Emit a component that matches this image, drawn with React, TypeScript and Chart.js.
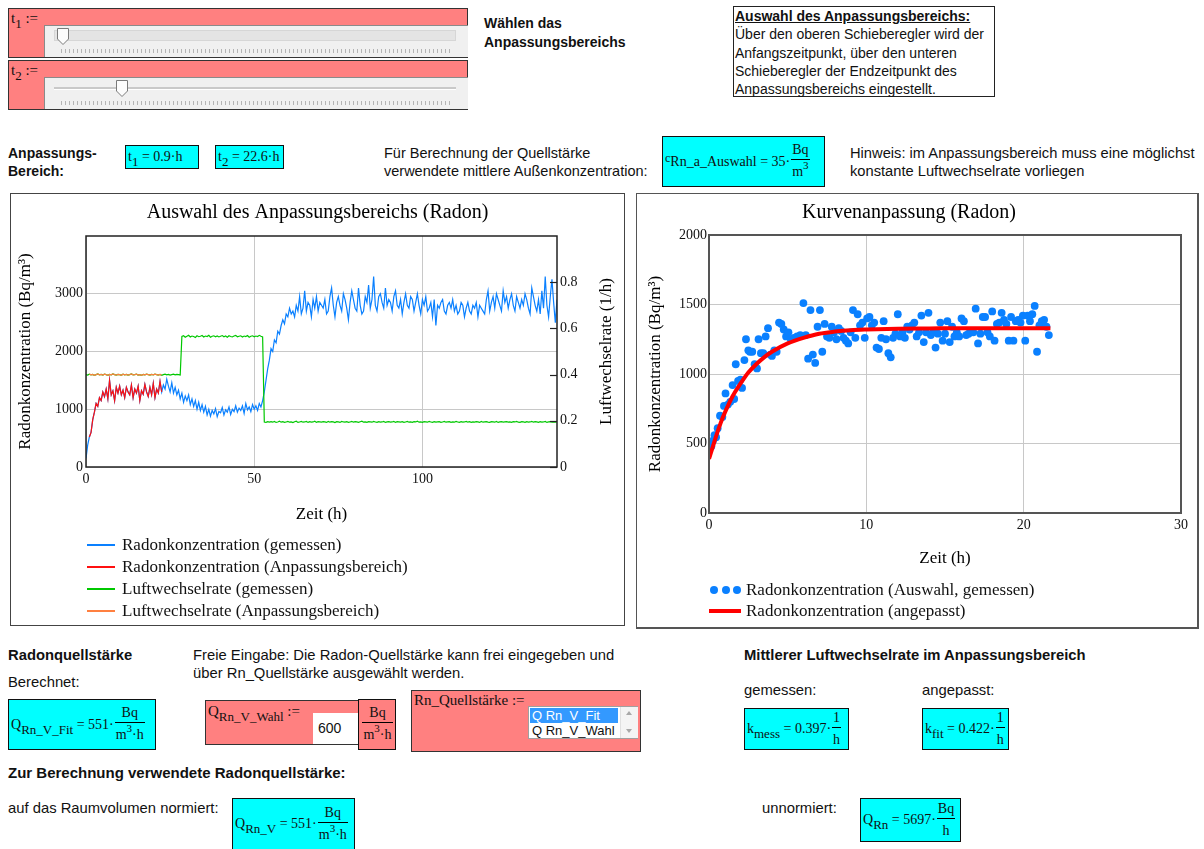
import React, { useEffect, useRef } from "react";
import { Chart, registerables } from "chart.js";

Chart.register(...registerables);

const SERIF = '"Liberation Serif", "Times New Roman", Times, serif';
const SANS = '"Liberation Sans", Arial, Helvetica, sans-serif';

// ---------- Fit range ----------
const T1 = 0.9;
const T2 = 22.6;
const SAMPLE_STEP_H = 0.5; // sampling interval of the measured series (h)

// ---------- Left chart: measured series (one value every 0.5 h, 0 … 140 h) ----------
const RADON_MEASURED = [
  150, 380, 520, 600, 820, 950, 1100, 1050, 1200, 1150,
  1300, 1220, 1350, 1180, 1500, 1250, 1320, 1150, 1380, 1280,
  1400, 1250, 1330, 1200, 1380, 1300, 1250, 1420, 1200, 1350,
  1280, 1400, 1150, 1320, 1260, 1430, 1300, 1220, 1380, 1250,
  1450, 1200, 1350, 1280, 1480, 1300, 1420, 1350, 1520, 1400,
  1300, 1460, 1280, 1380, 1250, 1330, 1180, 1280, 1120, 1230,
  1150, 1250, 1080, 1180, 1050, 1150, 1000, 1120, 980, 1080,
  950, 1050, 900, 1000, 880, 980, 920, 1010, 870, 960,
  940, 1030, 900, 990, 950, 1040, 910, 1000, 960, 1060,
  950, 1020, 980, 1060, 930, 1100, 990, 1040, 960, 1080,
  1000, 1060, 980, 1100, 1040, 1150, 1300, 1500, 1700, 1850,
  2050, 2000, 2200, 2150, 2350, 2300, 2450, 2550, 2480, 2650,
  2600, 2750, 2650, 2700, 2600, 2800, 2700, 2950, 2650, 2750,
  3050, 2700, 2850, 2800, 2600, 2900, 2750, 2950, 2700, 2850,
  2800, 2750, 2900, 2650, 2700, 2950, 3100, 2800, 2600, 2850,
  2950, 2800, 2700, 3000, 2900, 2750, 2550, 2850, 3050, 2900,
  2750, 2700, 3100, 2800, 2650, 2700, 2950, 2850, 3150, 2750,
  2900, 3300, 2800, 2700, 2950, 3000, 2850, 2750, 3100, 2800,
  2900, 2850, 2700, 2950, 3050, 2800, 2750, 2900, 2650, 2850,
  3000, 2800, 2750, 2950, 2900, 2700, 2850, 3000, 2800, 2650,
  2900, 2800, 2950, 2700, 2750, 2850, 2600, 2900, 2450, 2800,
  2750, 2850, 2900, 2700, 2650, 2800, 2850, 2750, 2900, 2700,
  2800, 2650, 2700, 2850, 2800, 2600, 2750, 2850, 2700, 2650,
  2800, 2750, 2850, 2600, 2800, 2750, 2700, 2650, 2900, 3050,
  2700, 2850, 2950, 2750, 3000, 2900, 2800, 2700, 3050, 2850,
  2950, 2750, 2900, 3000, 2800, 2700, 2950, 2850, 2750, 2900,
  2800, 3000, 2900, 2750, 2650, 3100, 2950, 2800, 2700, 2900,
  2650, 3050, 2750, 3300, 2800, 2600, 2950, 3250, 2850, 2500,
  2900,
];

const AIR_EXCHANGE_MEASURED = [
  0.400, 0.398, 0.402, 0.399, 0.401, 0.397, 0.400, 0.403, 0.399, 0.401,
  0.398, 0.402, 0.400, 0.397, 0.401, 0.399, 0.403, 0.400, 0.398, 0.401,
  0.400, 0.397, 0.402, 0.399, 0.401, 0.398, 0.400, 0.403, 0.399, 0.400,
  0.402, 0.398, 0.400, 0.397, 0.401, 0.399, 0.402, 0.400, 0.398, 0.401,
  0.399, 0.402, 0.400, 0.398, 0.401, 0.397, 0.400, 0.402, 0.399, 0.401,
  0.398, 0.400, 0.402, 0.399, 0.401, 0.400, 0.398, 0.565, 0.568, 0.562,
  0.566, 0.570, 0.563, 0.567, 0.565, 0.561, 0.568, 0.564, 0.566, 0.569,
  0.563, 0.567, 0.565, 0.570, 0.562, 0.566, 0.568, 0.564, 0.567, 0.563,
  0.566, 0.569, 0.564, 0.567, 0.562, 0.568, 0.565, 0.563, 0.567, 0.570,
  0.564, 0.566, 0.568, 0.563, 0.567, 0.565, 0.569, 0.562, 0.566, 0.568,
  0.564, 0.567, 0.565, 0.570, 0.566, 0.563, 0.195, 0.193, 0.196, 0.194,
  0.196, 0.194, 0.197, 0.193, 0.195, 0.198, 0.194, 0.196, 0.193, 0.195,
  0.197, 0.194, 0.195, 0.192, 0.196, 0.198, 0.193, 0.195, 0.197, 0.194,
  0.195, 0.197, 0.193, 0.196, 0.194, 0.195, 0.198, 0.193, 0.196, 0.195,
  0.194, 0.196, 0.195, 0.193, 0.197, 0.194, 0.196, 0.195, 0.192, 0.196,
  0.195, 0.193, 0.197, 0.195, 0.194, 0.196, 0.193, 0.195, 0.197, 0.194,
  0.196, 0.195, 0.193, 0.196, 0.198, 0.194, 0.195, 0.193, 0.196, 0.195,
  0.194, 0.197, 0.195, 0.193, 0.196, 0.194, 0.195, 0.197, 0.193, 0.195,
  0.196, 0.194, 0.195, 0.197, 0.193, 0.196, 0.195, 0.194, 0.196, 0.193,
  0.195, 0.197, 0.194, 0.195, 0.193, 0.196, 0.195, 0.198, 0.194, 0.195,
  0.193, 0.196, 0.195, 0.194, 0.197, 0.195, 0.193, 0.196, 0.194, 0.195,
  0.196, 0.193, 0.195, 0.197, 0.194, 0.195, 0.196, 0.193, 0.195, 0.194,
  0.197, 0.195, 0.193, 0.196, 0.194, 0.195, 0.197, 0.194, 0.196, 0.193,
  0.195, 0.194, 0.196, 0.195, 0.193, 0.197, 0.194, 0.195, 0.196, 0.194,
  0.193, 0.196, 0.195, 0.194, 0.197, 0.193, 0.195, 0.196, 0.194, 0.195,
  0.196, 0.194, 0.195, 0.193, 0.196, 0.195, 0.197, 0.194, 0.193, 0.196,
  0.195, 0.193, 0.196, 0.194, 0.195, 0.197, 0.194, 0.196, 0.195, 0.193,
  0.196, 0.194, 0.195, 0.197, 0.193, 0.195, 0.196, 0.194, 0.195, 0.194,
  0.195,
];

const LEFT_X_TICKS = [0, 50, 100];
const LEFT_Y_TICKS = [0, 1000, 2000, 3000];
const LEFT_Y1_TICKS = [0, 0.2, 0.4, 0.6, 0.8];
const LEFT_LEGEND = [
  "Radonkonzentration (gemessen)",
  "Radonkonzentration (Anpassungsbereich)",
  "Luftwechselrate (gemessen)",
  "Luftwechselrate (Anpassungsbereich)",
];
const LEFT_COLORS = ["#0a80ff", "#ff1010", "#00c800", "#ff8040"];

// ---------- Right chart: selected points (time since t1) and fitted curve ----------
const SEL_TIME = [
  0.05, 0.15, 0.25, 0.35, 0.45, 0.55, 0.7, 0.85, 0.95, 1.05,
  1.2, 1.35, 1.5, 1.6, 1.7, 1.85, 2.0, 2.1, 2.25, 2.35,
  2.5, 2.6, 2.75, 2.9, 3.05, 3.15, 3.3, 3.45, 3.6, 3.75,
  3.9, 4.0, 4.15, 4.3, 4.45, 4.6, 4.75, 4.9, 5.05, 5.2,
  5.4, 5.6, 5.8, 6.0, 6.15, 6.3, 6.45, 6.6, 6.75, 6.9,
  7.05, 7.2, 7.35, 7.5, 7.65, 7.8, 7.95, 8.1, 8.25, 8.4,
  8.55, 8.7, 8.85, 9.0, 9.15, 9.3, 9.45, 9.6, 9.75, 9.9,
  10.05, 10.2, 10.35, 10.5, 10.65, 10.8, 10.95, 11.1, 11.25, 11.4,
  11.55, 11.7, 11.85, 12.0, 12.15, 12.3, 12.45, 12.6, 12.75, 12.9,
  13.05, 13.2, 13.35, 13.5, 13.65, 13.8, 13.95, 14.1, 14.25, 14.4,
  14.55, 14.7, 14.85, 15.0, 15.15, 15.3, 15.45, 15.6, 15.75, 15.9,
  16.05, 16.2, 16.35, 16.5, 16.65, 16.8, 16.95, 17.1, 17.25, 17.4,
  17.55, 17.7, 17.85, 18.0, 18.15, 18.3, 18.45, 18.6, 18.75, 18.9,
  19.05, 19.2, 19.35, 19.5, 19.65, 19.8, 19.95, 20.1, 20.25, 20.4,
  20.55, 20.7, 20.85, 21.0, 21.15, 21.3, 21.45, 21.6,
];
const SEL_RADON = [
  470, 480, 520, 560, 545, 610, 700, 690, 770, 860,
  780, 800, 920, 820, 1070, 950, 960, 900, 1100, 1250,
  1170, 1160, 1160, 1070, 1040, 1250, 1150, 1150, 1270, 1330,
  1140, 1130, 1170, 1160, 1370, 1360, 1320, 1270, 1300, 1250,
  1260, 1270, 1280, 1510, 1280, 1110, 1460, 1140, 1080, 1340,
  1460, 1160, 1360, 1270, 1260, 1340, 1300, 1250, 1330, 1310,
  1260, 1240, 1220, 1300, 1460, 1260, 1430, 1350, 1370, 1260,
  1400, 1410, 1350, 1370, 1190, 1180, 1260, 1380, 1250, 1150,
  1120, 1260, 1290, 1430, 1270, 1300, 1260, 1340, 1320, 1350,
  1370, 1270, 1300, 1420, 1230, 1300, 1440, 1280, 1300, 1190,
  1290, 1370, 1240, 1290, 1380, 1230, 1340, 1270, 1300, 1270,
  1400, 1380, 1280, 1290, 1310, 1300, 1470, 1220, 1290, 1410,
  1410, 1300, 1270, 1450, 1240, 1360, 1370, 1440, 1390, 1360,
  1240, 1410, 1240, 1380, 1390, 1370, 1420, 1240, 1420, 1380,
  1430, 1490, 1160, 1350, 1380, 1390, 1340, 1280,
];
const FIT_TIME = [0, 0.25, 0.5, 0.75, 1, 1.5, 2, 2.5, 3, 3.5, 4, 5, 6, 7, 8, 9, 10, 12, 14, 16, 18, 20, 21.7];
const FIT_RADON = [390, 480, 570, 650, 720, 840, 930, 1010, 1070, 1120, 1160, 1220, 1260, 1290, 1305, 1315, 1320, 1326, 1328, 1330, 1330, 1330, 1330];

const RIGHT_X_TICKS = [0, 10, 20, 30];
const RIGHT_Y_TICKS = [0, 500, 1000, 1500, 2000];
const RIGHT_LEGEND = ["Radonkonzentration (Auswahl, gemessen)", "Radonkonzentration (angepasst)"];
const RIGHT_COLORS = ["#0a80ff", "#ff0000"];

// ---------- chart helpers ----------
const tickFont = { family: SERIF, size: 14 };
const titleFont = { family: SERIF, size: 17 };
const fixTicks = (vals: number[]) => (s: any) => {
  s.ticks = vals.map((v) => ({ value: v }));
};
const plainLabel = (v: any) => String(v);

const framePlugin = (color: string, width: number, innerTickAxis?: string) => ({
  id: "frame",
  afterDraw(chart: any) {
    const { ctx, chartArea: a } = chart;
    ctx.save();
    ctx.strokeStyle = color;
    ctx.lineWidth = width;
    ctx.strokeRect(a.left, a.top, a.right - a.left, a.bottom - a.top);
    if (innerTickAxis) {
      const s = chart.scales[innerTickAxis];
      ctx.lineWidth = 1.2;
      s.ticks.forEach((t: any) => {
        const y = Math.round(s.getPixelForValue(t.value)) + 0.5;
        ctx.beginPath();
        ctx.moveTo(a.right - 7, y);
        ctx.lineTo(a.right, y);
        ctx.stroke();
      });
    }
    ctx.restore();
  },
});

const sideTitlePlugin = (text: string, offset: number) => ({
  id: "sideTitle",
  afterDraw(chart: any) {
    const { ctx, chartArea: a } = chart;
    ctx.save();
    ctx.translate(a.right + offset, (a.top + a.bottom) / 2);
    ctx.rotate(-Math.PI / 2);
    ctx.textAlign = "center";
    ctx.textBaseline = "middle";
    ctx.font = `17px ${SERIF}`;
    ctx.fillStyle = "#000";
    ctx.fillText(text, 0, 0);
    ctx.restore();
  },
});

function LeftChart() {
  const ref = useRef<HTMLCanvasElement>(null);
  useEffect(() => {
    const blue = RADON_MEASURED.map((y, i) => ({ x: i * SAMPLE_STEP_H, y }));
    const green = AIR_EXCHANGE_MEASURED.map((y, i) => ({ x: i * SAMPLE_STEP_H, y }));
    const inRange = (p: { x: number }) => p.x >= T1 && p.x <= T2;
    const red = blue.filter(inRange);
    const orange = green.filter(inRange);
    const chart = new Chart(ref.current as HTMLCanvasElement, {
      type: "line",
      data: {
        datasets: [
          { label: LEFT_LEGEND[0], data: blue, borderColor: LEFT_COLORS[0], borderWidth: 1.2, pointRadius: 0, yAxisID: "y", order: 3 },
          { label: LEFT_LEGEND[1], data: red, borderColor: LEFT_COLORS[1], borderWidth: 1.2, pointRadius: 0, yAxisID: "y", order: 1 },
          { label: LEFT_LEGEND[2], data: green, borderColor: LEFT_COLORS[2], borderWidth: 1.2, pointRadius: 0, yAxisID: "y1", order: 2 },
          { label: LEFT_LEGEND[3], data: orange, borderColor: LEFT_COLORS[3], borderWidth: 1.2, pointRadius: 0, yAxisID: "y1", order: 0 },
        ],
      } as any,
      options: {
        animation: false,
        responsive: false,
        events: [],
        layout: { padding: { left: 0, right: 0, top: 0, bottom: 97 } },
        plugins: {
          legend: { display: false },
          tooltip: { enabled: false },
          title: {
            display: true,
            text: "Auswahl des Anpassungsbereichs (Radon)",
            font: { family: SERIF, size: 20, weight: "normal" },
            color: "#000",
            padding: { top: 7, bottom: 11 },
          },
        },
        scales: {
          x: {
            type: "linear",
            min: 0,
            max: 140,
            afterBuildTicks: fixTicks(LEFT_X_TICKS),
            afterFit: (s: any) => { s.height = 61; },
            grid: { color: "#c8c8c8", drawTicks: false },
            border: { display: false },
            ticks: { font: tickFont, color: "#111", padding: 4, maxRotation: 0, autoSkip: false, callback: plainLabel },
            title: { display: true, text: "Zeit (h)", font: titleFont, color: "#000", padding: { top: 0, bottom: 3 } },
          },
          y: {
            type: "linear",
            position: "left",
            min: 0,
            max: 4000,
            afterBuildTicks: fixTicks(LEFT_Y_TICKS),
            afterFit: (s: any) => { s.width = 75; },
            grid: { color: "#c8c8c8", drawTicks: false },
            border: { display: false },
            ticks: { font: tickFont, color: "#111", padding: 3, autoSkip: false, callback: plainLabel },
            title: { display: true, text: "Radonkonzentration (Bq/m³)", font: titleFont, color: "#000", padding: { top: 4, bottom: 0 } },
          },
          y1: {
            type: "linear",
            position: "right",
            min: 0,
            max: 1,
            afterBuildTicks: fixTicks(LEFT_Y1_TICKS),
            afterFit: (s: any) => { s.width = 67; },
            grid: { display: false, drawTicks: false },
            border: { display: false },
            ticks: { font: tickFont, color: "#111", padding: 3, autoSkip: false, callback: plainLabel },
          },
        },
      } as any,
      plugins: [framePlugin("#222", 1.5, "y1"), sideTitlePlugin("Luftwechselrate (1/h)", 50)],
    });
    return () => chart.destroy();
  }, []);
  return <canvas ref={ref} width={613} height={431} style={{ display: "block" }} />;
}

function RightChart() {
  const ref = useRef<HTMLCanvasElement>(null);
  useEffect(() => {
    const pts = SEL_TIME.map((x, i) => ({ x, y: SEL_RADON[i] }));
    const fit = FIT_TIME.map((x, i) => ({ x, y: FIT_RADON[i] }));
    const chart = new Chart(ref.current as HTMLCanvasElement, {
      type: "scatter",
      data: {
        datasets: [
          { label: RIGHT_LEGEND[0], data: pts, backgroundColor: RIGHT_COLORS[0], borderWidth: 0, pointRadius: 3.9, order: 1 },
          {
            label: RIGHT_LEGEND[1], data: fit, showLine: true, borderColor: RIGHT_COLORS[1], borderWidth: 4,
            pointRadius: 0, cubicInterpolationMode: "monotone", order: 0,
          },
        ],
      } as any,
      options: {
        animation: false,
        responsive: false,
        events: [],
        layout: { padding: { left: 0, right: 16, top: 0, bottom: 54 } },
        plugins: {
          legend: { display: false },
          tooltip: { enabled: false },
          title: {
            display: true,
            text: "Kurvenanpassung (Radon)",
            font: { family: SERIF, size: 20, weight: "normal" },
            color: "#000",
            padding: { top: 7, bottom: 10 },
          },
        },
        scales: {
          x: {
            type: "linear",
            min: 0,
            max: 30,
            afterBuildTicks: fixTicks(RIGHT_X_TICKS),
            afterFit: (s: any) => { s.height = 60; },
            grid: { color: "#c8c8c8", drawTicks: false },
            border: { display: false },
            ticks: { font: tickFont, color: "#111", padding: 4, maxRotation: 0, autoSkip: false, callback: plainLabel },
            title: { display: true, text: "Zeit (h)", font: titleFont, color: "#000", padding: { top: 0, bottom: 4 } },
          },
          y: {
            type: "linear",
            min: 0,
            max: 2000,
            afterBuildTicks: fixTicks(RIGHT_Y_TICKS),
            afterFit: (s: any) => { s.width = 72; },
            grid: { color: "#c8c8c8", drawTicks: false },
            border: { display: false },
            ticks: { font: tickFont, color: "#111", padding: 2, autoSkip: false, callback: plainLabel },
            title: { display: true, text: "Radonkonzentration (Bq/m³)", font: titleFont, color: "#000", padding: { top: 8, bottom: 0 } },
          },
        },
      } as any,
      plugins: [framePlugin("#555", 2)],
    });
    return () => chart.destroy();
  }, []);
  return <canvas ref={ref} width={560} height={433} style={{ display: "block" }} />;
}

// ---------- HTML helpers ----------
const abs = (left: number, top: number, extra: React.CSSProperties = {}): React.CSSProperties => ({
  position: "absolute",
  left,
  top,
  ...extra,
});

function Txt({ x, cy, children, bold, size = 14, style }: any) {
  return (
    <div style={abs(x, cy - 9, { lineHeight: "18px", fontSize: size, fontWeight: bold ? "bold" : "normal", whiteSpace: "nowrap", ...style })}>
      {children}
    </div>
  );
}

const Sub = ({ children }: any) => (
  <span style={{ fontSize: 13, position: "relative", top: 5 }}>{children}</span>
);

const Frac = ({ num, den }: any) => (
  <span style={{ display: "inline-flex", flexDirection: "column", alignItems: "center", verticalAlign: "middle", margin: "0 0 0 1px" }}>
    <span style={{ lineHeight: "18px", padding: "0 1px" }}>{num}</span>
    <span style={{ borderTop: "1px solid #000", alignSelf: "stretch" }} />
    <span style={{ lineHeight: "20px", padding: "2px 1px 0 1px" }}>{den}</span>
  </span>
);

const M3 = ({ h }: any) => (
  <span>
    m<span style={{ fontSize: 11, position: "relative", top: -7 }}>3</span>
    {h ? "·h" : ""}
  </span>
);

function MathBox({ x, y, w, h, bg = "#00ffff", children, style }: any) {
  return (
    <div
      style={abs(x, y, {
        width: w,
        height: h,
        boxSizing: "border-box",
        background: bg,
        border: "1px solid #111",
        display: "flex",
        alignItems: "center",
        paddingLeft: 2,
        fontFamily: SERIF,
        fontSize: 14,
        whiteSpace: "nowrap",
        overflow: "hidden",
        ...style,
      })}
    >
      {children}
    </div>
  );
}

function Slider({ top, label, thumbX, focused }: any) {
  return (
    <div style={abs(8, top, { width: 460, height: 50, boxSizing: "border-box", background: "#ff8080", border: "1px solid #333" })}>
      <div style={abs(2, 0, { fontFamily: SERIF, fontSize: 15, lineHeight: "18px" })}>
        t<Sub>{label}</Sub> :=
      </div>
      <div
        style={abs(35, 16, {
          width: 424,
          height: 32,
          boxSizing: "border-box",
          background: "#f0f0f0",
          borderTop: "1px solid #8a8a8a",
          borderLeft: "1px solid #8a8a8a",
        })}
      >
        {focused ? (
          <div style={abs(9, 4, { width: 402, height: 11, background: "#e4e4e4", border: "1px solid #d6d6d6", boxSizing: "border-box" })} />
        ) : (
          <div style={abs(9, 9, { width: 402, height: 2, background: "#c9c9c9", borderBottom: "1px solid #fff" })} />
        )}
        <div
          style={abs(16, 23, {
            width: 392,
            height: 4,
            backgroundImage: "repeating-linear-gradient(to right, #b4b4b4 0px, #b4b4b4 1px, transparent 1px, transparent 4px)",
          })}
        />
        <svg style={abs(thumbX - 44 - 6, 2)} width={12} height={17}>
          <polygon points="0.5,0.5 11.5,0.5 11.5,11 6,16.5 0.5,11" fill="#fcfcfc" stroke="#7a7a7a" strokeWidth={1} />
        </svg>
      </div>
    </div>
  );
}

function LeftLegend() {
  const widths = [1.5, 2.5, 2, 2];
  return (
    <div style={abs(87, 534, { fontFamily: SERIF, fontSize: 17 })}>
      {LEFT_LEGEND.map((l, i) => (
        <div key={l} style={{ display: "flex", alignItems: "center", height: 22 }}>
          <span style={{ display: "inline-block", width: 28, height: widths[i], background: LEFT_COLORS[i], marginRight: 7 }} />
          <span style={{ lineHeight: "22px", whiteSpace: "nowrap" }}>{l}</span>
        </div>
      ))}
    </div>
  );
}

function RightLegend() {
  return (
    <div style={abs(709, 579, { fontFamily: SERIF, fontSize: 17 })}>
      <div style={{ display: "flex", alignItems: "center", height: 21 }}>
        <span style={{ display: "inline-flex", width: 32, justifyContent: "space-between", marginRight: 5, paddingLeft: 1, boxSizing: "border-box" }}>
          {[0, 1, 2].map((k) => (
            <span key={k} style={{ width: 8, height: 8, borderRadius: 4, background: RIGHT_COLORS[0], display: "inline-block" }} />
          ))}
        </span>
        <span style={{ whiteSpace: "nowrap" }}>{RIGHT_LEGEND[0]}</span>
      </div>
      <div style={{ display: "flex", alignItems: "center", height: 21 }}>
        <span style={{ display: "inline-block", width: 32, height: 4, background: RIGHT_COLORS[1], marginRight: 5 }} />
        <span style={{ whiteSpace: "nowrap" }}>{RIGHT_LEGEND[1]}</span>
      </div>
    </div>
  );
}

const MID = 14.5;
const BOT = 14.8;

export default function App() {
  return (
    <div
      style={{
        position: "absolute",
        left: 0,
        top: 0,
        width: 1204,
        height: 849,
        background: "#fff",
        overflow: "hidden",
        fontFamily: SANS,
        fontSize: 14,
        color: "#111",
      }}
    >
      {/* sliders */}
      <Slider top={8} label="1" thumbX={62} focused />
      <Slider top={60} label="2" thumbX={121} />

      <Txt x={484} cy={23} bold>Wählen das</Txt>
      <Txt x={484} cy={42} bold>Anpassungsbereichs</Txt>

      <div style={abs(733, 6, { width: 262, height: 91, boxSizing: "border-box", border: "1px solid #222", paddingLeft: 1, lineHeight: "18.3px", fontSize: 14, whiteSpace: "nowrap" })}>
        <div style={{ fontWeight: "bold", textDecoration: "underline" }}>Auswahl des Anpassungsbereichs:</div>
        <div>Über den oberen Schieberegler wird der</div>
        <div>Anfangszeitpunkt, über den unteren</div>
        <div>Schieberegler der Endzeitpunkt des</div>
        <div>Anpassungsbereichs eingestellt.</div>
      </div>

      {/* range row */}
      <Txt x={8} cy={153} bold>Anpassungs-</Txt>
      <Txt x={8} cy={171} bold>Bereich:</Txt>
      <MathBox x={125} y={145} w={74} h={24}>
        t<Sub>1</Sub>&nbsp;= 0.9·h
      </MathBox>
      <MathBox x={215} y={145} w={69} h={24}>
        t<Sub>2</Sub>&nbsp;= 22.6·h
      </MathBox>
      <Txt x={384} cy={153} size={MID}>Für Berechnung der Quellstärke</Txt>
      <Txt x={384} cy={171} size={MID}>verwendete mittlere Außenkonzentration:</Txt>
      <MathBox x={662} y={136} w={163} h={51}>
        <span style={{ fontSize: 12, position: "relative", top: -3 }}>c</span>
        <span>Rn_a_Auswahl</span>&nbsp;= 35·
        <Frac num="Bq" den={<M3 />} />
      </MathBox>
      <Txt x={850} cy={153} size={14.7}>Hinweis: im Anpassungsbereich muss eine möglichst</Txt>
      <Txt x={850} cy={171} size={14.7}>konstante Luftwechselrate vorliegen</Txt>

      {/* charts */}
      <div style={abs(10, 193, { width: 613, height: 431, border: "1px solid #444" })}>
        <LeftChart />
      </div>
      <LeftLegend />
      <div style={abs(636, 193, { width: 560, height: 433, border: "1px solid #555", borderRightWidth: 2, borderBottomWidth: 2 })}>
        <RightChart />
      </div>
      <RightLegend />

      {/* bottom: source strength */}
      <Txt x={8} cy={655} bold size={BOT}>Radonquellstärke</Txt>
      <Txt x={8} cy={682} size={BOT}>Berechnet:</Txt>
      <MathBox x={8} y={699} w={148} h={51}>
        Q<Sub>Rn_V_Fit</Sub>&nbsp;= 551·
        <Frac num="Bq" den={<M3 h />} />
      </MathBox>

      <Txt x={193} cy={655} size={BOT}>Freie Eingabe: Die Radon-Quellstärke kann frei eingegeben und</Txt>
      <Txt x={193} cy={673} size={BOT}>über Rn_Quellstärke ausgewählt werden.</Txt>

      <div style={abs(205, 700, { width: 154, height: 45, boxSizing: "border-box", background: "#ff8080", border: "1px solid #333" })}>
        <div style={abs(2, 1, { fontFamily: SERIF, fontSize: 15, lineHeight: "18px", whiteSpace: "nowrap" })}>
          Q<Sub>Rn_V_Wahl</Sub> :=
        </div>
        <div style={abs(107, 12, { width: 45, height: 31, background: "#fff", fontSize: 14, lineHeight: "31px", paddingLeft: 5, boxSizing: "border-box" })}>
          600
        </div>
      </div>
      <MathBox x={358} y={699} w={38} h={51} bg="#ff8080" style={{ paddingLeft: 0, justifyContent: "center" }}>
        <Frac num="Bq" den={<M3 h />} />
      </MathBox>

      <div style={abs(411, 690, { width: 230, height: 62, boxSizing: "border-box", background: "#ff8080", border: "1px solid #333" })}>
        <div style={abs(2, 0, { fontFamily: SERIF, fontSize: 15, lineHeight: "18px", whiteSpace: "nowrap" })}>Rn_Quellstärke :=</div>
        <div style={abs(116, 15, { width: 110, height: 33, boxSizing: "border-box", background: "#fff", border: "1px solid #a0a0a0", fontSize: 13 })}>
          <div style={abs(1, 1, { width: 88, height: 15, background: "#3399ff", color: "#fff", lineHeight: "15px", paddingLeft: 2, boxSizing: "border-box", whiteSpace: "nowrap" })}>
            Q Rn_V_Fit
          </div>
          <div style={abs(1, 16, { width: 88, height: 15, lineHeight: "15px", paddingLeft: 2, boxSizing: "border-box", whiteSpace: "nowrap" })}>
            Q Rn_V_Wahl
          </div>
          <div style={abs(91, 0, { width: 17, height: 31, background: "#f4f4f4", borderLeft: "1px solid #e0e0e0" })}>
            <div style={abs(5, 4, { width: 0, height: 0, borderLeft: "3px solid transparent", borderRight: "3px solid transparent", borderBottom: "4px solid #a8a8a8" })} />
            <div style={abs(5, 22, { width: 0, height: 0, borderLeft: "3px solid transparent", borderRight: "3px solid transparent", borderTop: "4px solid #a8a8a8" })} />
          </div>
        </div>
      </div>

      <Txt x={744} cy={655} bold size={BOT}>Mittlerer Luftwechselrate im Anpassungsbereich</Txt>
      <Txt x={744} cy={690} size={BOT}>gemessen:</Txt>
      <Txt x={922} cy={690} size={BOT}>angepasst:</Txt>
      <MathBox x={744} y={708} w={105} h={42}>
        k<Sub>mess</Sub>&nbsp;= 0.397·
        <Frac num="1" den="h" />
      </MathBox>
      <MathBox x={922} y={708} w={87} h={42}>
        k<Sub>fit</Sub>&nbsp;= 0.422·
        <Frac num="1" den="h" />
      </MathBox>

      <Txt x={8} cy={773} bold size={15}>Zur Berechnung verwendete Radonquellstärke:</Txt>
      <Txt x={8} cy={808} size={BOT}>auf das Raumvolumen normiert:</Txt>
      <MathBox x={232} y={798} w={123} h={52}>
        Q<Sub>Rn_V</Sub>&nbsp;= 551·
        <Frac num="Bq" den={<M3 h />} />
      </MathBox>
      <Txt x={762} cy={808} size={BOT}>unnormiert:</Txt>
      <MathBox x={860} y={798} w={101} h={44}>
        Q<Sub>Rn</Sub>&nbsp;= 5697·
        <Frac num="Bq" den="h" />
      </MathBox>
    </div>
  );
}
